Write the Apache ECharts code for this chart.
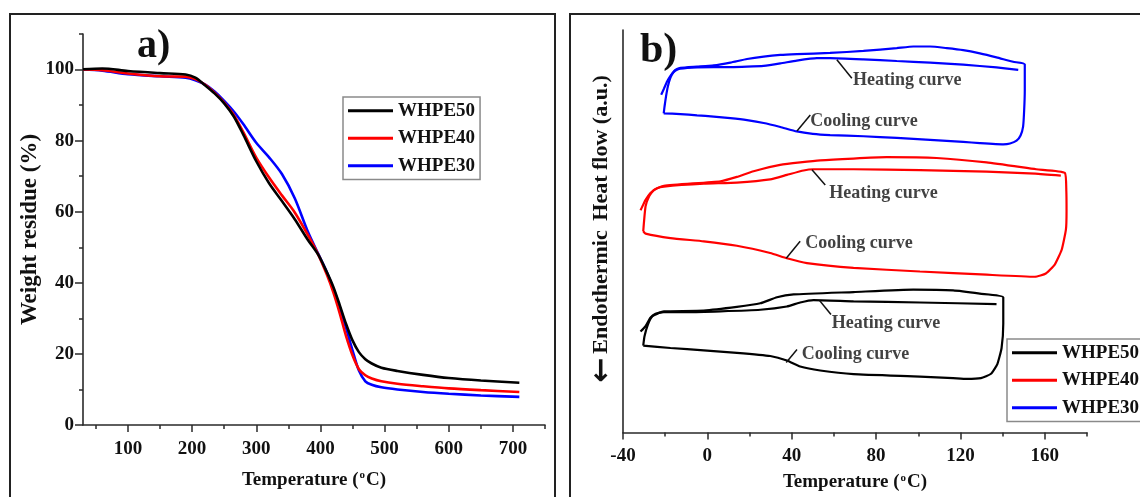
<!DOCTYPE html>
<html>
<head>
<meta charset="utf-8">
<script src="https://cdn.jsdelivr.net/npm/echarts@6/dist/echarts.min.js"></script>
<style>
  html, body { margin: 0; padding: 0; background: #ffffff; }
  #chart { width: 1140px; height: 497px; }
</style>
</head>
<body>
<div id="chart"></div>
<script>
// ---------- Panel a) thermogravimetric curves ----------
const tgaTemps = [30, 60, 100, 150, 190, 205, 220, 235, 250, 265, 280, 300, 320, 340, 360, 380, 397, 410, 420, 430, 440, 450, 460, 470, 480, 495, 520, 560, 600, 650, 710];
const tgaWHPE50 = [100.1, 100.3, 99.6, 99.0, 98.6, 97.7, 95.6, 93.3, 90.5, 86.8, 81.6, 74.2, 68.0, 63.0, 57.9, 52.2, 47.8, 43.0, 38.9, 33.8, 28.4, 23.8, 20.5, 18.5, 17.3, 16.1, 15.2, 14.1, 13.2, 12.5, 11.9];
const tgaWHPE40 = [100.0, 99.8, 98.9, 98.1, 98.0, 97.3, 95.8, 93.5, 90.7, 87.2, 82.3, 75.2, 69.6, 64.6, 59.8, 53.6, 47.8, 42.3, 37.4, 31.5, 25.0, 19.6, 15.7, 14.0, 13.1, 12.3, 11.6, 10.9, 10.3, 9.8, 9.3];
const tgaWHPE30 = [100.0, 99.7, 98.7, 98.1, 97.7, 97.0, 95.8, 93.8, 91.2, 88.2, 84.6, 79.4, 75.3, 70.6, 63.8, 54.6, 48.0, 43.0, 38.4, 33.2, 27.3, 21.0, 15.3, 12.3, 11.3, 10.6, 10.0, 9.3, 8.8, 8.3, 7.9];
const tgaXMajor = [100, 200, 300, 400, 500, 600, 700];
const tgaXMinor = [50, 150, 250, 350, 450, 550, 650, 750];
const tgaYMajor = [0, 20, 40, 60, 80, 100];
const tgaYMinor = [10, 30, 50, 70, 90, 110];

// ---------- Panel b) DSC heating / cooling traces, [temperature, heat flow (a.u.)] ----------
const dscWHPE30Heating = [[-21.9,83.9],[-20.6,85.4],[-19.1,87.2],[-17.5,88.6],[-15.9,89.6],[-14.4,90.1],[-12.8,90.4],[-4.9,90.7],[3.0,90.8],[10.9,90.8],[18.8,90.9],[26.7,91.1],[34.6,91.7],[42.4,92.4],[51.9,93.0],[58.2,93.0],[74.0,92.7],[89.8,92.3],[105.6,91.9],[121.3,91.4],[137.1,90.7],[147.4,90.1]];
const dscWHPE30Cycle = [[-20.7,79.3],[-20.3,81.0],[-19.6,83.5],[-18.7,86.0],[-17.5,88.2],[-15.9,89.7],[-14.4,90.3],[-12.8,90.6],[-4.9,90.9],[3.0,91.2],[10.9,91.9],[18.8,92.8],[26.7,93.4],[34.6,93.8],[42.4,94.0],[58.2,94.3],[74.0,94.8],[89.8,95.5],[97.7,95.9],[105.6,95.9],[113.5,95.5],[121.3,95.0],[129.2,94.2],[137.1,93.2],[145.0,92.1],[150.5,91.5],[150.5,85.0],[150.2,80.0],[149.7,76.0],[148.5,73.8],[146.6,72.5],[143.5,71.8],[140.3,71.6],[129.2,71.9],[121.3,72.2],[105.6,72.7],[89.8,73.2],[74.0,73.6],[58.2,73.9],[50.0,74.2],[42.4,74.8],[34.6,75.9],[26.7,76.9],[18.8,77.6],[10.9,78.1],[3.0,78.5],[-4.9,78.8],[-12.8,79.1],[-20.7,79.3]];

const dscWHPE40Heating = [[-31.7,55.2],[-30.5,56.5],[-29.3,57.8],[-27.0,59.5],[-23.8,60.7],[-20.6,61.1],[-1.7,61.8],[14.0,62.1],[29.8,62.9],[37.7,64.0],[45.6,65.1],[50.3,65.4],[69.3,65.4],[100.8,65.2],[132.4,64.8],[155.5,64.3],[167.6,63.8]];
const dscWHPE40Cycle = [[-30.4,50.0],[-30.1,52.0],[-29.3,56.2],[-27.6,58.7],[-25.3,60.3],[-20.6,61.3],[6.2,62.4],[14.0,63.5],[21.9,64.9],[34.5,66.5],[53.5,67.6],[85.0,68.4],[108.7,68.2],[132.4,67.1],[155.9,65.4],[169.5,64.5],[170.2,60.0],[170.3,55.0],[170.0,50.4],[168.0,45.4],[164.7,41.7],[160.5,39.5],[155.3,38.7],[132.4,39.2],[100.8,40.0],[69.3,40.9],[47.2,42.1],[37.7,43.3],[29.8,44.6],[14.0,46.4],[-1.7,47.5],[-17.5,48.3],[-29.3,49.4],[-30.4,50.0]];

const dscWHPE50Heating = [[-31.7,25.1],[-29.3,26.4],[-27.0,28.5],[-24.6,29.5],[-20.6,29.9],[-9.6,29.9],[6.2,30.1],[25.1,30.5],[37.7,31.3],[44.0,32.3],[50.3,32.9],[69.3,32.6],[100.8,32.3],[137.1,31.9]];
const dscWHPE50Cycle = [[-30.4,21.6],[-29.8,23.9],[-28.2,26.8],[-26.2,28.8],[-23.0,29.7],[-20.6,30.1],[-1.7,30.3],[14.0,31.2],[25.1,32.1],[33.0,33.6],[40.9,34.3],[69.3,34.9],[97.6,35.5],[116.5,35.3],[129.2,34.5],[140.3,33.6],[140.3,27.0],[139.5,21.0],[137.5,17.0],[134.5,14.6],[129.7,13.5],[123.0,13.3],[116.5,13.5],[100.8,13.9],[69.3,14.5],[53.5,15.4],[44.0,16.4],[37.7,17.9],[29.8,19.0],[14.0,19.8],[-1.7,20.4],[-17.5,21.0],[-30.4,21.6]];

const dscXMajor = [-40, 0, 40, 80, 120, 160];
const dscXMinor = [-20, 20, 60, 100, 140, 180];

// Callout labels on the DSC traces: leader start, leader end, text anchor
const noteTexts = ['Heating curve', 'Cooling curve', 'Heating curve', 'Cooling curve', 'Heating curve', 'Cooling curve'];
const noteFrom  = [[61.4,92.6], [42.5,74.9], [49.6,65.3], [37.4,43.3], [53.2,32.8], [37.4,17.4]];
const noteTo    = [[68.5,88.0], [48.8,78.9], [55.9,61.5], [44.0,47.5], [58.6,29.3], [42.5,20.6]];
const noteAt    = [[69.0,87.6], [48.8,77.2], [57.8,59.5], [46.4,47.1], [59.0,27.2], [44.8,19.4]];

const sampleNames  = ['WHPE50', 'WHPE40', 'WHPE30'];
const sampleColors = ['#000000', '#ff0000', '#0000ff'];

const FONT = '"Liberation Serif", "Times New Roman", serif';
const INK = '#111111';
const AXIS = '#2a2a2a';

const boldText = (size) => ({ fontFamily: FONT, fontWeight: 'bold', fontSize: size, color: INK });
const tempName = 'Temperature ({sup|o}C)';
const tempNameStyle = Object.assign(boldText(19), {
  rich: { sup: { fontFamily: FONT, fontWeight: 'bold', fontSize: 11, color: INK, padding: [0, 1, 9, 1] } }
});

function majorAxis(extra) {
  return Object.assign({
    type: 'value',
    splitLine: { show: false },
    axisLine: { show: true, onZero: false, lineStyle: { color: AXIS, width: 1.6 } },
  }, extra);
}
function minorAxis(extra) {
  return Object.assign({
    type: 'value',
    splitLine: { show: false },
    axisLine: { show: false, onZero: false },
    axisLabel: { show: false },
  }, extra);
}

const tgaSeries = [tgaWHPE50, tgaWHPE40, tgaWHPE30].map((vals, i) => ({
  name: sampleNames[i],
  type: 'line',
  xAxisIndex: 0, yAxisIndex: 0,
  data: tgaTemps.map((t, k) => [t, vals[k]]),
  smooth: 0.3,
  showSymbol: false,
  lineStyle: { color: sampleColors[i], width: 2.6 },
  itemStyle: { color: sampleColors[i] },
  z: 5 - i
}));

const dscPaths = [
  [dscWHPE50Heating, dscWHPE50Cycle],
  [dscWHPE40Heating, dscWHPE40Cycle],
  [dscWHPE30Heating, dscWHPE30Cycle]
];
const dscSeries = [];
dscPaths.forEach((paths, i) => {
  paths.forEach((path) => {
    dscSeries.push({
      name: sampleNames[i],
      type: 'line',
      xAxisIndex: 2, yAxisIndex: 2,
      data: path,
      smooth: 0.15,
      showSymbol: false,
      lineStyle: { color: sampleColors[i], width: 2.2 },
      itemStyle: { color: sampleColors[i] }
    });
  });
});

const noteSeries = [];
noteTexts.forEach((txt, i) => {
  noteSeries.push({
    type: 'line', xAxisIndex: 2, yAxisIndex: 2, silent: true,
    data: [noteFrom[i], noteTo[i]],
    showSymbol: false,
    lineStyle: { color: INK, width: 1.5 }
  });
});
noteSeries.push({
  type: 'scatter', xAxisIndex: 2, yAxisIndex: 2, silent: true,
  symbolSize: 0,
  data: noteTexts.map((txt, i) => ({ name: txt, value: noteAt[i] })),
  label: Object.assign({ show: true, position: 'right', distance: 0, formatter: '{b}' }, boldText(18))
});

const legendBase = {
  data: sampleNames,
  orient: 'vertical',
  icon: 'rect',
  itemWidth: 45,
  itemHeight: 3,
  itemGap: 0,
  padding: [0, 5, 0, 5],
  borderColor: '#8a8a8a',
  borderWidth: 1.5,
  selectedMode: false,
  textStyle: Object.assign(boldText(19), { lineHeight: 27.5 })
};

const option = {
  animation: false,
  backgroundColor: '#ffffff',
  grid: [
    { left: 83, top: 34, right: 595, bottom: 72 },
    { left: 623, top: 30, right: 53, bottom: 64 }
  ],
  xAxis: [
    majorAxis({
      gridIndex: 0, min: 30, max: 750, position: 'bottom',
      axisTick: { show: true, customValues: tgaXMajor, length: 7, lineStyle: { color: AXIS, width: 1.5 } },
      axisLabel: Object.assign({ customValues: tgaXMajor, margin: 15 }, boldText(19)),
      name: tempName, nameLocation: 'middle', nameGap: 45, nameTextStyle: tempNameStyle
    }),
    minorAxis({
      gridIndex: 0, min: 30, max: 750, position: 'bottom',
      axisTick: { show: true, customValues: tgaXMinor, length: 4, lineStyle: { color: AXIS, width: 1.5 } }
    }),
    majorAxis({
      gridIndex: 1, min: -40, max: 180, position: 'bottom',
      axisTick: { show: true, customValues: dscXMajor, length: 7, lineStyle: { color: AXIS, width: 1.5 } },
      axisLabel: Object.assign({ customValues: dscXMajor, margin: 14 }, boldText(19)),
      name: tempName, nameLocation: 'middle', nameGap: 40, nameTextStyle: tempNameStyle
    }),
    minorAxis({
      gridIndex: 1, min: -40, max: 180, position: 'bottom',
      axisTick: { show: true, customValues: dscXMinor, length: 4, lineStyle: { color: AXIS, width: 1.5 } }
    })
  ],
  yAxis: [
    majorAxis({
      gridIndex: 0, min: 0, max: 110, position: 'left',
      axisTick: { show: true, customValues: tgaYMajor, length: 8, lineStyle: { color: AXIS, width: 1.5 } },
      axisLabel: Object.assign({ customValues: tgaYMajor, margin: 9 }, boldText(19)),
      name: 'Weight residue (%)', nameLocation: 'middle', nameGap: 37,
      nameTextStyle: boldText(23)
    }),
    minorAxis({
      gridIndex: 0, min: 0, max: 110, position: 'left',
      axisTick: { show: true, customValues: tgaYMinor, length: 4, lineStyle: { color: AXIS, width: 1.5 } }
    }),
    majorAxis({
      gridIndex: 1, min: 0, max: 100, position: 'left',
      axisTick: { show: false },
      axisLabel: { show: false }
    })
  ],
  legend: [
    Object.assign({ left: 343, top: 97 }, legendBase),
    Object.assign({ left: 1007, top: 339 }, legendBase)
  ],
  graphic: [
    { type: 'rect', silent: true, shape: { x: 10, y: 14, width: 545, height: 500 },
      style: { fill: 'none', stroke: '#222222', lineWidth: 2 } },
    { type: 'rect', silent: true, shape: { x: 570, y: 14, width: 600, height: 500 },
      style: { fill: 'none', stroke: '#222222', lineWidth: 2 } },
    { type: 'text', silent: true, x: 137, y: 47,
      style: { text: 'a)', font: 'bold 40px ' + FONT, fill: INK, align: 'left', verticalAlign: 'middle' } },
    { type: 'text', silent: true, x: 640, y: 51,
      style: { text: 'b)', font: 'bold 42px ' + FONT, fill: INK, align: 'left', verticalAlign: 'middle' } },
    { type: 'text', silent: true, x: 601, y: 148, rotation: Math.PI / 2,
      style: { text: 'Heat flow (a.u.)', font: 'bold 22px ' + FONT, fill: INK, align: 'center', verticalAlign: 'middle' } },
    { type: 'text', silent: true, x: 601, y: 292, rotation: Math.PI / 2,
      style: { text: 'Endothermic', font: 'bold 22px ' + FONT, fill: INK, align: 'center', verticalAlign: 'middle' } },
    { type: 'text', silent: true, x: 602, y: 370, rotation: Math.PI / 2,
      style: { text: '\u2190', font: 'bold 30px "DejaVu Sans", sans-serif', fill: INK, align: 'center', verticalAlign: 'middle' } }
  ],
  series: tgaSeries.concat(dscSeries, noteSeries)
};

const chart = echarts.init(document.getElementById('chart'), null, { renderer: 'canvas' });
chart.setOption(option);
</script>
</body>
</html>
